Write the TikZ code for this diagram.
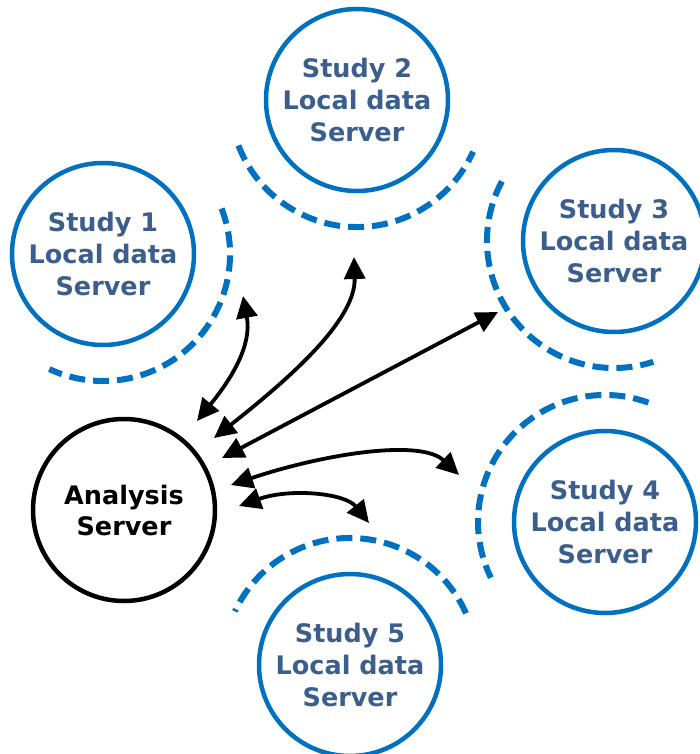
\documentclass[tikz,border=0pt]{standalone}
\usepackage{fontspec}
\newfontfamily\lblfont{DejaVu Sans}
\usetikzlibrary{arrows.meta}
\definecolor{ringblue}{RGB}{0,112,192}
\definecolor{labelblue}{RGB}{59,94,140}

\begin{document}
\begin{tikzpicture}[x=1pt,y=-1pt,
  study/.style={circle, draw=ringblue, line width=4.5pt, minimum size=182pt, inner sep=0pt,
    align=center, text=labelblue, font=\lblfont\bfseries\fontsize{25.5}{32}\selectfont},
  hub/.style={circle, draw=black, line width=4.5pt, minimum size=182pt, inner sep=0pt,
    align=center, text=black, font=\lblfont\bfseries\fontsize{25.5}{31}\selectfont},
  ring/.style={draw=ringblue, line width=6pt, dash pattern=on 16pt off 8pt},
  link/.style={draw=black, line width=3.8pt,
    {Triangle[length=22pt,width=21pt]}-{Triangle[length=22pt,width=21pt]}}
]
\useasboundingbox (0,0) rectangle (700,754);

% servers
\node[hub]   (an) at (124,510) {Analysis\\Server};
\node[study] (s1) at (103,254) {Study 1\\Local data\\Server};
\node[study] (s2) at (357,100) {Study 2\\Local data\\Server};
\node[study] (s3) at (614,241) {Study 3\\Local data\\Server};
\node[study] (s4) at (605,522) {Study 4\\Local data\\Server};
\node[study] (s5) at (350,665) {Study 5\\Local data\\Server};

% dashed boundaries facing the analysis server
\draw[ring] (s1.center) ++(-21:127) arc[start angle=-21, end angle=115, radius=127];
\draw[ring] (s2.center) ++(159:127) arc[start angle=159, end angle=24, radius=127];
\draw[ring] (s3.center) ++(208:127) arc[start angle=208, end angle=72, radius=127];
\draw[ring] (s4.center) ++(290:127) arc[start angle=290, end angle=154, radius=127];
\draw[ring] (s5.center) ++(-24:127) arc[start angle=-24, end angle=-155, radius=127];

% link end points
\coordinate (a1) at (197,421);
\coordinate (a2) at (214,438);
\coordinate (a3) at (222,458);
\coordinate (a4) at (231,485);
\coordinate (a5) at (239,506);
\coordinate (b1) at (243,296);
\coordinate (b2) at (354,257);
\coordinate (b3) at (498,312);
\coordinate (b4) at (459,475);
\coordinate (b5) at (369,523);

% two-way links
\draw[link] (a1) .. controls (232,378) and (252,345) .. (b1);
\draw[link] (a2) .. controls (290,378) and (356,320) .. (b2);
\draw[link] (a3) -- (b3);
\draw[link] (a4) .. controls (320,455) and (420,438) .. (b4);
\draw[link] (a5) .. controls (290,488) and (345,493) .. (b5);
\end{tikzpicture}
\end{document}
